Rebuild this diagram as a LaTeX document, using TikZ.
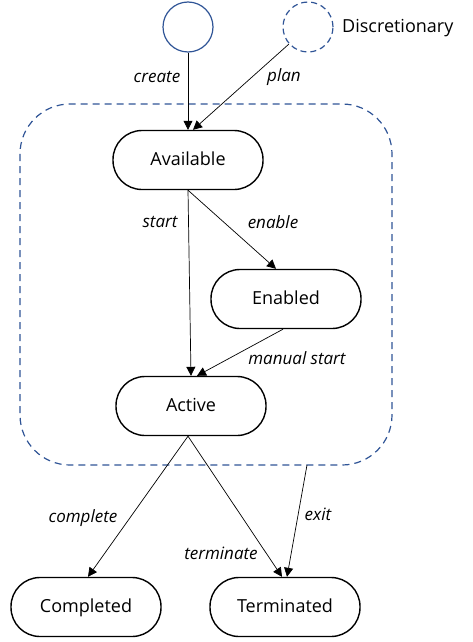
\documentclass[tikz,border=0pt]{standalone}
\usepackage{fontspec}
\setmainfont{Open Sans}
\usetikzlibrary{arrows.meta}

\definecolor{planblue}{RGB}{47,84,150}

\tikzset{
	state/.style={draw, line width=1.4pt, rectangle, rounded corners=29pt,
		minimum width=150pt, minimum height=59pt, inner sep=0pt,
		text height=14pt, text depth=2.6pt,
		font=\fontsize{18}{20}\selectfont},
	startpt/.style={draw=planblue, line width=1.2pt, circle, minimum size=50pt, inner sep=0pt},
	trans/.style={-{Triangle[length=9pt,width=9pt]}, line width=0.7pt},
	lbl/.style={inner sep=0pt, font=\fontsize{17}{20}\selectfont\itshape}
}

\begin{document}
\begin{tikzpicture}[x=1pt, y=-1pt]
	\useasboundingbox (0,0) rectangle (472,642);

	% stage boundary
	\draw[planblue, line width=1.2pt, dash pattern=on 7pt off 5pt, rounded corners=50pt] (20,104) rectangle (392,465);

	% entry points
	\node[startpt] (create) at (188,27) {};
	\node[startpt, dash pattern=on 6pt off 4pt] (disc) at (308,27) {};
	\node[anchor=west, inner sep=0pt, font=\fontsize{18}{20}\selectfont] (disclbl) at (342,28) {Discretionary};

	% states
	\node[state] (avail) at (188,160) {Available};
	\node[state] (enabled) at (286,299) {Enabled};
	\node[state] (active) at (191,406) {Active};
	\node[state] (completed) at (86,607) {Completed};
	\node[state] (term) at (285,607) {Terminated};
	\coordinate (exitpt) at (307,465);

	% transitions
	\draw[trans] (create) -- (avail);
	\draw[trans] (disc) -- ([xshift=5pt]avail.north);
	\draw[trans] (avail.south) -- (active.north);
	\draw[trans] (avail.south) -- ([xshift=-10pt]enabled.north);
	\draw[trans] ([xshift=-3pt]enabled.south) -- ([xshift=6pt]active.north);
	\draw[trans] ([xshift=-3pt]active.south) -- ([xshift=2pt]completed.north);
	\draw[trans] ([xshift=-3pt]active.south) -- ([xshift=-3pt]term.north);
	\draw[trans] (exitpt) -- ([xshift=2pt]term.north);

	% transition labels
	\node[lbl] (createlbl) at (157,77) {create};
	\node[lbl] (planlbl) at (284,77) {plan};
	\node[lbl] (startlbl) at (160,222) {start};
	\node[lbl] (enablelbl) at (273,222) {enable};
	\node[lbl] (manlbl) at (297,358) {manual start};
	\node[lbl] (complbl) at (83,518) {complete};
	\node[lbl] (termlbl) at (221,553) {terminate};
	\node[lbl] (exitlbl) at (318,514) {exit};
\end{tikzpicture}
\end{document}
